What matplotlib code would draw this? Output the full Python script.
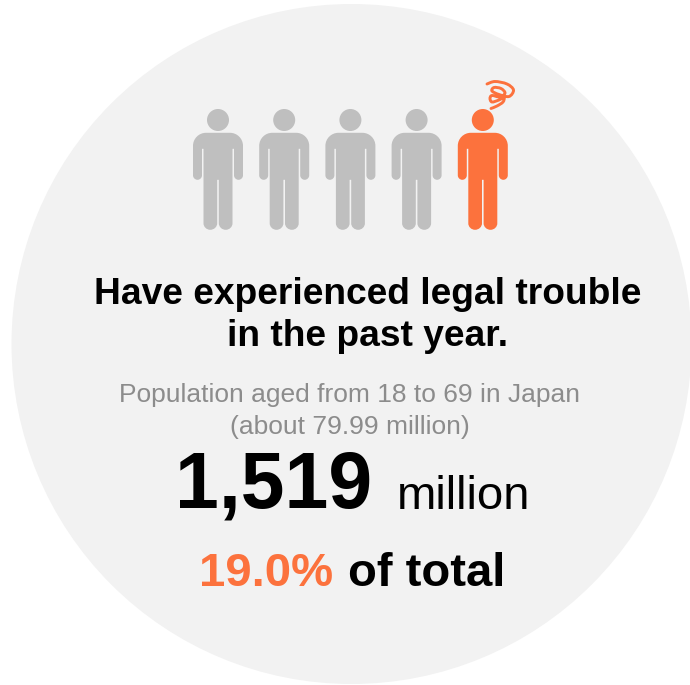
import matplotlib
matplotlib.use("Agg")
import matplotlib.pyplot as plt
from matplotlib.patches import Circle, PathPatch
from matplotlib.path import Path
from matplotlib.transforms import Affine2D

plt.rcParams['font.family'] = ['Liberation Sans', 'DejaVu Sans']

# Figures shown on the card
headline = ["Have experienced legal trouble", "in the past year."]
population_note = ["Population aged from 18 to 69 in Japan", "(about 79.99 million)"]
count_label = "1,519"
count_unit = "million"
share_label = "19.0%"
share_suffix = "of total"
people_total = 5
people_affected = 1

GREY = "#bfbfbf"
ORANGE = "#fc723d"
DISC = "#f2f2f2"

fig = plt.figure(figsize=(6.9, 6.85), dpi=100, facecolor="white")
ax = fig.add_axes([0, 0, 1, 1])
ax.set_xlim(0, 690)
ax.set_ylim(685, 0)
ax.axis("off")

ax.add_patch(Circle((351.5, 344), 340, facecolor=DISC, edgecolor="none"))


def person_path():
    """Pictogram body centred on x=0, shoulders at y=0, feet at y=97."""
    k = 0.55
    v, c = [], []

    def move(p):
        v.append(p); c.append(Path.MOVETO)

    def line(p):
        v.append(p); c.append(Path.LINETO)

    def arc(p0, p1, horizontal_first):
        dx, dy = p1[0] - p0[0], p1[1] - p0[1]
        if horizontal_first:
            a, b = (p0[0] + k * dx, p0[1]), (p1[0], p1[1] - k * dy)
        else:
            a, b = (p0[0], p0[1] + k * dy), (p1[0] - k * dx, p1[1])
        v.extend([a, b, p1]); c.extend([Path.CURVE4] * 3)

    # Walk clockwise from the top of the torso
    move((-12, 0))
    line((12, 0))
    arc((12, 0), (25, 13), True)
    line((25, 42.5))
    arc((25, 42.5), (20.5, 47), False)
    arc((20.5, 47), (16, 42.5), True)
    line((16, 16))
    line((14.5, 16))
    line((14.5, 90.5))
    arc((14.5, 90.5), (7.75, 97), False)
    arc((7.75, 97), (0.8, 90.5), True)
    line((0.8, 47))
    line((-0.8, 47))
    line((-0.8, 90.5))
    arc((-0.8, 90.5), (-7.75, 97), False)
    arc((-7.75, 97), (-14.5, 90.5), True)
    line((-14.5, 16))
    line((-16, 16))
    line((-16, 42.5))
    arc((-16, 42.5), (-20.5, 47), False)
    arc((-20.5, 47), (-25, 42.5), True)
    line((-25, 13))
    arc((-25, 13), (-12, 0), False)
    v.append((-12, 0)); c.append(Path.CLOSEPOLY)
    return Path(v, c)


body = person_path()
first_x, step_x = 218, 66.2
head_y, head_r, shoulder_y = 120, 11, 132.8

for i in range(people_total):
    x = first_x + step_x * i
    color = ORANGE if i >= people_total - people_affected else GREY
    ax.add_patch(Circle((x, head_y), head_r, facecolor=color, edgecolor="none"))
    ax.add_patch(PathPatch(body, facecolor=color, edgecolor="none",
                           transform=Affine2D().translate(x, shoulder_y) + ax.transData))


def smooth(points):
    """Catmull-Rom curve through the given points, as a Bezier path."""
    v, c = [points[0]], [Path.MOVETO]
    n = len(points)
    for i in range(n - 1):
        p0 = points[max(i - 1, 0)]
        p1, p2 = points[i], points[i + 1]
        p3 = points[min(i + 2, n - 1)]
        v.append((p1[0] + (p2[0] - p0[0]) / 6, p1[1] + (p2[1] - p0[1]) / 6))
        v.append((p2[0] - (p3[0] - p1[0]) / 6, p2[1] - (p3[1] - p1[1]) / 6))
        v.append(p2)
        c.extend([Path.CURVE4] * 3)
    return Path(v, c)


# Dizzy scribble above the highlighted figure
scribble = [(487, 84), (495, 81.5), (507, 84), (513.5, 90), (509, 96.5), (499, 94.5),
            (492, 91), (494, 87.5), (501, 88.5), (505, 93), (500, 97), (492, 95.5),
            (490, 98.5), (492, 102), (499, 100), (504, 97.5), (503, 102), (497, 106),
            (491, 108.5)]
ax.add_patch(PathPatch(smooth(scribble), facecolor="none", edgecolor=ORANGE,
                       linewidth=2.1, capstyle="round"))

# Text lines are placed one by one on their baselines
for line_text, y in zip(headline, (304, 346)):
    ax.text(367.5, y, line_text, ha="center", va="baseline", fontsize=26.7,
            fontweight="bold", color="black")
for line_text, y in zip(population_note, (402, 433.5)):
    ax.text(349.5, y, line_text, ha="center", va="baseline", fontsize=19,
            color="#8c8c8c")

ax.text(274, 508, count_label, ha="center", va="baseline", fontsize=56.6,
        fontweight="bold", color="black")
ax.text(463.5, 509, count_unit, ha="center", va="baseline", fontsize=34, color="black")

ax.text(266.5, 585.5, share_label, ha="center", va="baseline", fontsize=34,
        fontweight="bold", color=ORANGE)
ax.text(426.5, 585.5, share_suffix, ha="center", va="baseline", fontsize=34,
        fontweight="bold", color="black")

fig.savefig("out.png", dpi=100, facecolor="white")
